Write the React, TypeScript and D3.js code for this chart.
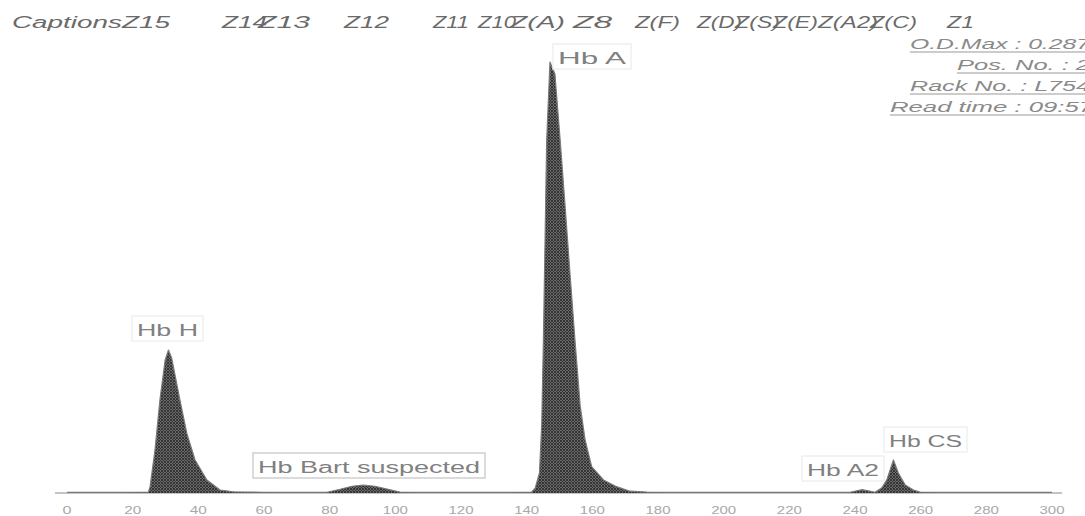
import React from "react";
import * as d3 from "d3";

// ---- data ----
const migration = [
  0, 10, 20, 24.8, 25.3, 26.8, 28.3, 29.9, 30.9, 31.9, 34.4, 36.5, 39.0, 42.6, 46.6, 50.7,
  60, 70, 79.2, 83.2, 86.8, 90.2, 93.8, 97.8, 101.4, 110, 120, 130, 138,
  141.5, 142.6, 143.9, 144.6, 145.1, 145.6, 146.1, 147.1, 148.6, 150.2, 151.7, 153.2, 154.7,
  156.3, 157.8, 159.8, 163.4, 167.4, 171.5, 176.6, 185, 200, 215, 230,
  238.5, 240.6, 242.2, 244.0, 246.1, 248.1, 249.7, 251.7, 253.2, 255.3, 257.8, 259.8, 270, 285, 300,
];
const absorbance = [
  0.0004, 0.0004, 0.0005, 0.0006, 0.0042, 0.0286, 0.0619, 0.0886, 0.0952, 0.0897, 0.0619, 0.0397, 0.022, 0.0087, 0.002, 0.0008,
  0.0005, 0.0004, 0.0005, 0.0025, 0.0045, 0.0053, 0.0045, 0.0025, 0.0006, 0.0004, 0.0004, 0.0004, 0.0005,
  0.0006, 0.0033, 0.0133, 0.0466, 0.102, 0.168, 0.235, 0.287, 0.279, 0.235, 0.191, 0.146, 0.102,
  0.058, 0.0353, 0.0175, 0.0087, 0.0042, 0.0012, 0.0006, 0.0004, 0.0004, 0.0004, 0.0004,
  0.0005, 0.0015, 0.0022, 0.0015, 0.0005, 0.0033, 0.0087, 0.022, 0.0133, 0.0053, 0.002, 0.0006, 0.0004, 0.0004, 0.0004,
];
const tickValues = [0, 20, 40, 60, 80, 100, 120, 140, 160, 180, 200, 220, 240, 260, 280, 300];
const odMax = 0.287;
const zoneLabels = ["CaptionsZ15", "Z14", "Z13", "Z12", "Z11", "Z10", "Z(A)", "Z8", "Z(F)", "Z(D)", "Z(S)", "Z(E)", "Z(A2)", "Z(C)", "Z1"];
const peakLabels = ["Hb H", "Hb Bart suspected", "Hb A", "Hb A2", "Hb CS"];
const infoLines = ["O.D.Max : 0.287", "Pos. No. : 2", "Rack No. : L754", "Read time : 09:57"];

// ---- layout ----
const W = 1085;
const H = 516;
const zoneLayout = [
  { x: 12, w: 158 }, { x: 222, w: 45 }, { x: 258, w: 52 }, { x: 344, w: 45 },
  { x: 433, w: 36 }, { x: 478, w: 38 }, { x: 510, w: 55 }, { x: 573, w: 39 },
  { x: 635, w: 45 }, { x: 697, w: 45 }, { x: 735, w: 45 }, { x: 773, w: 45 },
  { x: 818, w: 60 }, { x: 870, w: 47 }, { x: 947, w: 27 },
];
const peakLayout = [
  { x: 137, y: 336, w: 61 },
  { x: 258, y: 473, w: 222 },
  { x: 558, y: 64, w: 68 },
  { x: 807, y: 476, w: 72 },
  { x: 889, y: 447, w: 73 },
];
const infoLayout = [
  { x: 910, y: 49, w: 180 },
  { x: 957, y: 70, w: 133 },
  { x: 910, y: 91, w: 180 },
  { x: 890, y: 112, w: 203 },
];

const FONT = "'Liberation Sans', Arial, sans-serif";

export default function App() {
  const x = d3.scaleLinear().domain([0, 300]).range([67, 1052]);
  const y = d3.scaleLinear().domain([0, odMax]).range([493, 62]);
  const pts = migration.map((m, i) => [m, absorbance[i]] as [number, number]);
  const area = d3
    .area<[number, number]>()
    .x((d) => x(d[0]))
    .y0(y(0))
    .y1((d) => y(d[1]))
    .curve(d3.curveLinear);
  const line = d3
    .line<[number, number]>()
    .x((d) => x(d[0]))
    .y((d) => y(d[1]))
    .curve(d3.curveLinear);

  return (
    <svg
      width={W}
      height={H}
      style={{ position: "absolute", left: 0, top: 0, background: "#fff" }}
      fontFamily={FONT}
    >
      <defs>
        <pattern id="hatch" width="3" height="3" patternUnits="userSpaceOnUse">
          <rect width="3" height="3" fill="#6a6a6a" />
          <path d="M0,0 L3,3 M3,0 L0,3" stroke="#2e2e2e" strokeWidth="0.9" />
        </pattern>
        <filter id="soft" x="-5%" y="-5%" width="110%" height="110%">
          <feGaussianBlur stdDeviation="0.6" />
        </filter>
      </defs>
      <rect width={W} height={H} fill="#fff" />

      {/* zone captions */}
      {zoneLabels.map((t, i) => (
        <text
          key={t + i}
          x={zoneLayout[i].x}
          y={28}
          fontSize={16}
          fontStyle="italic"
          fill="#6a6a6a"
          textLength={zoneLayout[i].w}
          lengthAdjust="spacingAndGlyphs"
        >
          {t}
        </text>
      ))}

      {/* info block */}
      {infoLines.map((t, i) => (
        <g key={t}>
          <text
            x={infoLayout[i].x}
            y={infoLayout[i].y}
            fontSize={14}
            fontStyle="italic"
            fill="#8a8a8a"
            textLength={infoLayout[i].w}
            lengthAdjust="spacingAndGlyphs"
          >
            {t}
          </text>
          <line
            x1={infoLayout[i].x}
            x2={infoLayout[i].x + infoLayout[i].w}
            y1={infoLayout[i].y + 3}
            y2={infoLayout[i].y + 3}
            stroke="#9a9a9a"
            strokeWidth={1.2}
          />
        </g>
      ))}

      {/* baseline */}
      <line x1={55} x2={1062} y1={y(0)} y2={y(0)} stroke="#c4c4c4" strokeWidth={2} />

      {/* trace */}
      <g filter="url(#soft)">
        <path d={area(pts) || ""} fill="url(#hatch)" />
        <path d={line(pts) || ""} fill="none" stroke="#7a7a7a" strokeWidth={1.2} strokeLinejoin="round" />
      </g>

      {/* peak labels */}
      {peakLabels.map((t, i) => {
        const L = peakLayout[i];
        return (
          <g key={t}>
            <rect
              x={L.x - 5}
              y={L.y - 20}
              width={L.w + 10}
              height={25}
              fill="none"
              stroke={i === 1 ? "#cfcfcf" : "#f0f0f0"}
              strokeWidth={1.5}
            />
            <text
              x={L.x}
              y={L.y}
              fontSize={16}
              fill="#808080"
              textLength={L.w}
              lengthAdjust="spacingAndGlyphs"
            >
              {t}
            </text>
          </g>
        );
      })}

      {/* x tick labels */}
      {tickValues.map((v) => {
        const s = String(v);
        const w = s.length === 1 ? 9 : s.length === 2 ? 17 : 25;
        return (
          <text
            key={v}
            x={x(v) - w / 2}
            y={514}
            fontSize={10}
            fill="#a8a8a8"
            textLength={w}
            lengthAdjust="spacingAndGlyphs"
          >
            {s}
          </text>
        );
      })}
    </svg>
  );
}
